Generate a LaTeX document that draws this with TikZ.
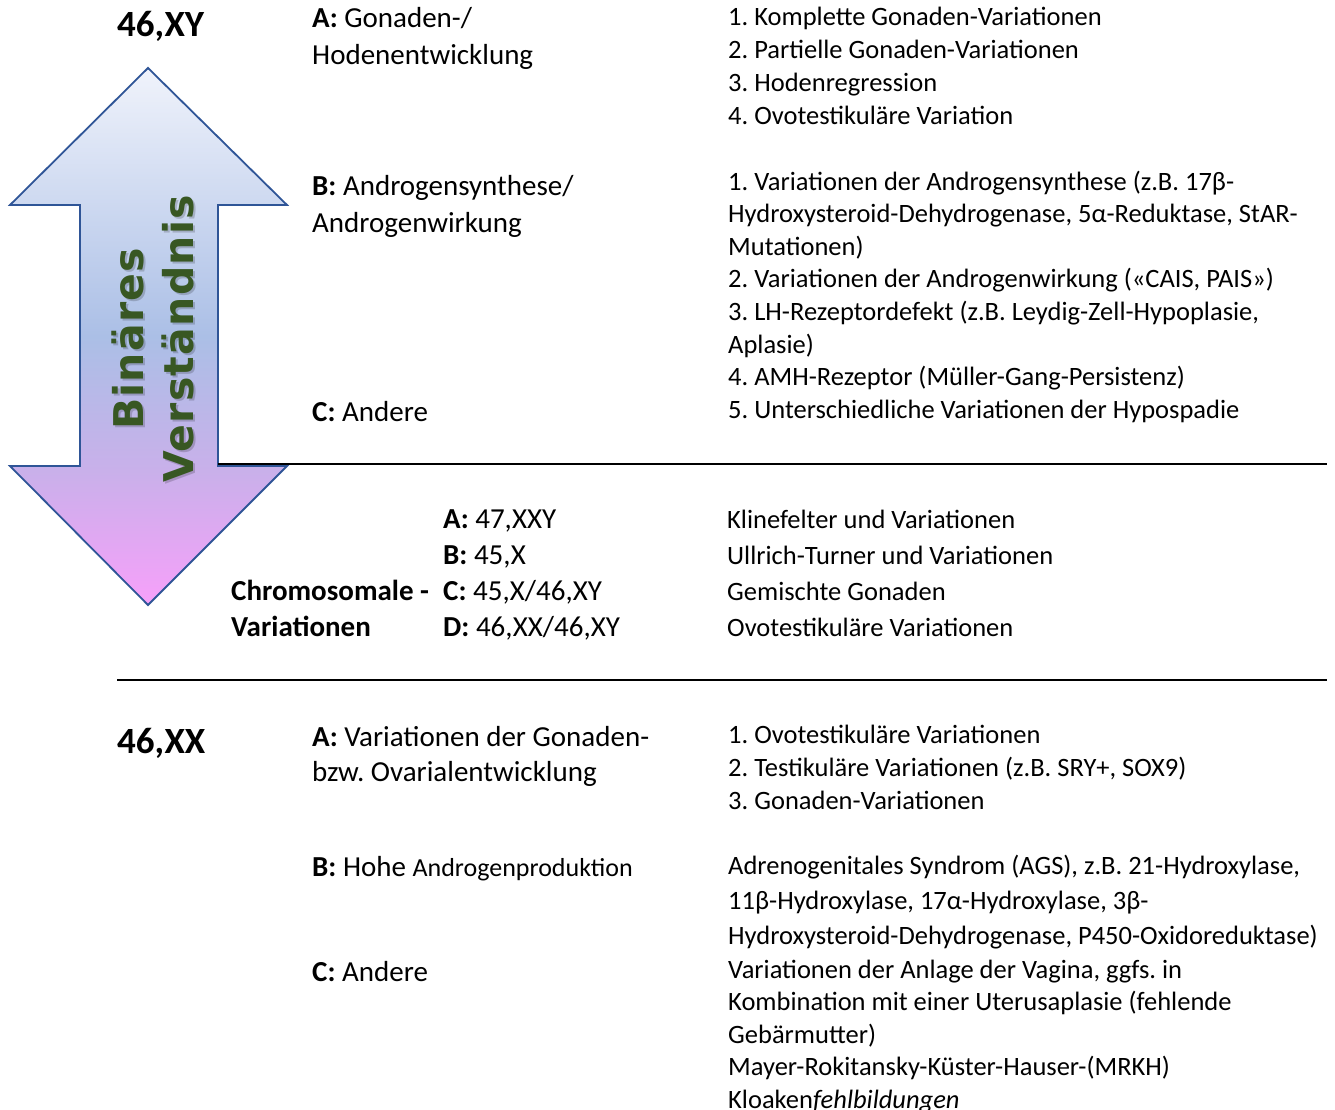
\documentclass[tikz,border=0pt]{standalone}
\usepackage{fontspec}
\setmainfont{Carlito}
\newfontfamily\arrowfont[LetterSpace=3]{DejaVu Sans}
\definecolor{agreen}{HTML}{385723}
\definecolor{aborder}{HTML}{2F5597}
\definecolor{atop}{HTML}{F0F3FB}
\definecolor{amid}{HTML}{ABBFE6}
\definecolor{alow}{HTML}{C9B0EA}
\definecolor{abot}{HTML}{F7A0FA}
\pgfdeclareverticalshading{arrowshade}{100bp}{color(0bp)=(abot); color(25bp)=(abot); color(37.5bp)=(alow); color(50bp)=(amid); color(75bp)=(atop); color(100bp)=(atop)}
\tikzset{
  lt/.style={anchor=base west, inner sep=0pt, font=\fontsize{29}{36}\selectfont},
  rt/.style={anchor=base west, inner sep=0pt, font=\fontsize{26.5}{33}\selectfont},
  bigt/.style={anchor=base west, inner sep=0pt, font=\bfseries\fontsize{37}{44}\selectfont},
  arrowtxt/.style={rotate=90, align=center, inner sep=0pt, font=\arrowfont\bfseries\fontsize{41}{50}\selectfont},
  sepline/.style={line width=1.6pt, black},
}
\begin{document}
\frenchspacing
\begin{tikzpicture}[x=1pt,y=-1pt]
\useasboundingbox (0,0) rectangle (1335,1110);
% double arrow
\shade[shading=arrowshade, draw=aborder, line width=1.8pt, line join=miter]
  (148,68) -- (287,205) -- (218,205) -- (218,466) -- (287,466) -- (148,605)
  -- (10,466) -- (80,466) -- (80,205) -- (10,205) -- cycle;
\node[arrowtxt, text=black, opacity=0.18] (bvs) at (155,341) {Binäres\\Verständnis};
\node[arrowtxt, text=agreen] (bv) at (153,339) {Binäres\\Verständnis};
% separator lines
\coordinate (l1a) at (218,464); \coordinate (l1b) at (1327,464);
\coordinate (l2a) at (117,680); \coordinate (l2b) at (1327,680);
\draw[sepline] (l1a) -- (l1b);
\draw[sepline] (l2a) -- (l2b);
% 46,XY section
\node[bigt] (xy) at (117,37) {46,XY};
\node[lt] (xya1) at (312,28) {\textbf{A:} Gonaden-/};
\node[lt] (xya2) at (312,65) {Hodenentwicklung};
\node[lt] (xyb1) at (312,196) {\textbf{B:} Androgensynthese/};
\node[lt] (xyb2) at (312,232) {Androgenwirkung};
\node[lt] (xyc) at (312,421) {\textbf{C:} Andere};
\foreach \t [count=\i from 0] in {{1. Komplette Gonaden-Variationen},{2. Partielle Gonaden-Variationen},{3. Hodenregression},{4. Ovotestikuläre Variation}}
  \node[rt] (ra\i) at (728,{26+33*\i}) {\t};
\foreach \t [count=\i from 0] in {{1. Variationen der Androgensynthese (z.B. 17β-},{Hydroxysteroid-Dehydrogenase, 5α-Reduktase, StAR-},{Mutationen)},{2. Variationen der Androgenwirkung («CAIS, PAIS»)},{3. LH-Rezeptordefekt (z.B. Leydig-Zell-Hypoplasie,},{Aplasie)},{4. AMH-Rezeptor (Müller-Gang-Persistenz)},{5. Unterschiedliche Variationen der Hypospadie}}
  \node[rt] (rb\i) at (728,{190+32.6*\i}) {\t};
% chromosomal section
\node[lt,font=\bfseries\fontsize{29}{36}\selectfont] (ch1) at (231,600) {Chromosomale -};
\node[lt,font=\bfseries\fontsize{29}{36}\selectfont] (ch2) at (231,636) {Variationen};
\foreach \t [count=\i from 0] in {{\textbf{A:} 47,XXY},{\textbf{B:} 45,X},{\textbf{C:} 45,X/46,XY},{\textbf{D:} 46,XX/46,XY}}
  \node[lt] (cl\i) at (443,{528+36*\i}) {\t};
\foreach \t [count=\i from 0] in {{Klinefelter und Variationen},{Ullrich-Turner und Variationen},{Gemischte Gonaden},{Ovotestikuläre Variationen}}
  \node[rt] (cr\i) at (727,{528+36*\i}) {\t};
% 46,XX section
\node[bigt] (xx) at (117,753) {46,XX};
\node[lt] (xxa1) at (312,746) {\textbf{A:} Variationen der Gonaden-};
\node[lt] (xxa2) at (312,781) {bzw. Ovarialentwicklung};
\node[lt] (xxb) at (312,876) {\textbf{B:} Hohe {\fontsize{26}{30}\selectfont Androgenproduktion}};
\node[lt] (xxc) at (312,981) {\textbf{C:} Andere};
\foreach \t [count=\i from 0] in {{1. Ovotestikuläre Variationen},{2. Testikuläre Variationen (z.B. SRY+, SOX9)},{3. Gonaden-Variationen}}
  \node[rt] (xr\i) at (728,{743+33*\i}) {\t};
\foreach \t [count=\i from 0] in {{Adrenogenitales Syndrom (AGS), z.B. 21-Hydroxylase,},{11β-Hydroxylase, 17α-Hydroxylase, 3β-},{Hydroxysteroid-Dehydrogenase, P450-Oxidoreduktase)}}
  \node[rt] (xs\i) at (728,{874+35*\i}) {\t};
\foreach \t [count=\i from 0] in {{Variationen der Anlage der Vagina, ggfs. in},{Kombination mit einer Uterusaplasie (fehlende},{Gebärmutter)},{Mayer-Rokitansky-Küster-Hauser-(MRKH)},{Kloaken\textit{fehlbildungen}}}
  \node[rt] (xt\i) at (728,{978+32.6*\i}) {\t};
\end{tikzpicture}
\end{document}
